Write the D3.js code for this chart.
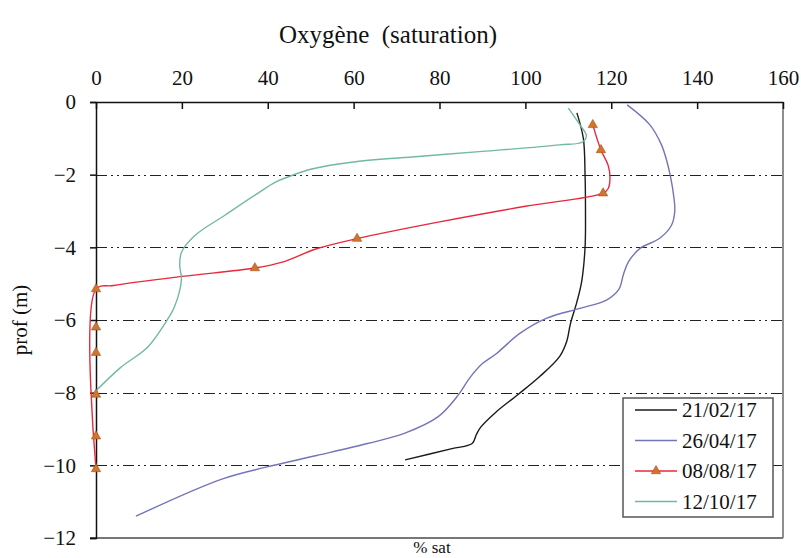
<!DOCTYPE html>
<html>
<head>
<meta charset="utf-8">
<script src="https://cdn.jsdelivr.net/npm/d3@7"></script>
<style>
  body { margin: 0; background: #fff; }
</style>
</head>
<body>
<div id="chart"></div>
<script>
// ticks and series (value %sat, depth m)
const xTicks = [0, 20, 40, 60, 80, 100, 120, 140, 160];
const yTicks = [0, -2, -4, -6, -8, -10, -12];
const gridDepths = [-2, -4, -6, -8, -10];
const dates = ["21/02/17", "26/04/17", "08/08/17", "12/10/17"];
const colors = ["#1b1b1b", "#7474b8", "#e8283c", "#72b8a6"];

const feb = [[112, -0.3], [113.5, -1.0], [113.9, -2], [114, -3], [113.9, -4], [113.1, -4.95],
  [112, -5.5], [110.5, -6.1], [109.6, -6.6], [108, -7.0], [103.4, -7.55], [98.3, -8.05],
  [93, -8.55], [89.6, -8.95], [88.6, -9.15], [87.6, -9.4], [82.9, -9.54], [72, -9.85]];
const apr = [[123.7, -0.08], [129, -0.63], [131.7, -1.18], [133, -1.65], [133.7, -2], [134.5, -2.55],
  [134.8, -3], [134, -3.4], [131.3, -3.75], [126.7, -4.03], [124, -4.4], [122.8, -4.76],
  [121.8, -5.15], [118.9, -5.45], [112.7, -5.68], [105, -5.95], [98.7, -6.37], [93.3, -6.92],
  [90, -7.2], [87, -7.6], [84.4, -8.06], [79.7, -8.66], [71.8, -9.12], [63.2, -9.4],
  [51.4, -9.73], [39.6, -10.05], [29.3, -10.38], [9.3, -11.4]];
const aug = [[115.7, -0.63], [117.6, -1.32], [119.3, -1.75], [119.7, -2.1], [119.3, -2.38],
  [118.1, -2.51], [100, -2.87], [80, -3.3], [60.8, -3.76], [51.4, -4.04], [43.6, -4.4],
  [37, -4.57], [20, -4.8], [4.1, -5.05], [0, -5.15], [0, -10.1]];
const augMarks = [[115.7, -0.63], [117.6, -1.32], [118.1, -2.51], [60.8, -3.76], [37, -4.57],
  [0, -5.15], [0, -6.2], [0, -6.9], [0, -8.05], [0, -9.2], [0, -10.1]];
const oct = [[110, -0.17], [112.7, -0.63], [114.2, -0.92], [113.3, -1.1], [108, -1.18], [90, -1.36],
  [75, -1.5], [60, -1.65], [50, -1.85], [45, -2.05], [41.9, -2.2], [37.2, -2.55], [30.1, -3.11],
  [23.1, -3.67], [19.9, -4.14], [19.5, -4.51], [19.9, -4.88], [18.3, -5.63], [16.3, -6.05],
  [12, -6.75], [5.7, -7.31], [0, -7.95]];
const series = [feb, apr, aug, oct];

const W = 801, H = 558;
const L = 96, R = 783, T = 102, B = 538;
const serif = "'Liberation Serif', 'Times New Roman', Times, serif";

const svg = d3.select("#chart").append("svg")
  .attr("width", W).attr("height", H)
  .style("font-family", serif);

const x = d3.scaleLinear().domain([0, 160]).range([L, R]);
const y = d3.scaleLinear().domain([0, -12]).range([T, B]);

// grid lines dash-dot-dot
svg.selectAll("line.grid").data(gridDepths).enter().append("line")
  .attr("class", "grid")
  .attr("x1", L).attr("x2", R)
  .attr("y1", d => Math.round(y(d)) + 0.5).attr("y2", d => Math.round(y(d)) + 0.5)
  .attr("stroke", "#222").attr("stroke-width", 1.2)
  .attr("stroke-dasharray", "11,4,2,4,2,4");

// frame: right + bottom
svg.append("line").attr("x1", R).attr("x2", R).attr("y1", T).attr("y2", B)
  .attr("stroke", "#444").attr("stroke-width", 1.2);
svg.append("line").attr("x1", L - 6).attr("x2", R).attr("y1", B).attr("y2", B)
  .attr("stroke", "#777").attr("stroke-width", 2);

// top axis, ticks inward
const topAxis = svg.append("g").attr("transform", "translate(0," + T + ")")
  .call(d3.axisTop(x).tickValues(xTicks).tickSizeInner(-7).tickSizeOuter(0).tickPadding(17));
topAxis.attr("font-family", serif);
topAxis.select(".domain").attr("stroke", "#111").attr("stroke-width", 1.5);
topAxis.selectAll(".tick line").attr("stroke", "#111").attr("stroke-width", 1.5);
topAxis.selectAll("text").style("font-size", "21px").attr("fill", "#111");

// left axis
const leftAxis = svg.append("g").attr("transform", "translate(" + L + ",0)")
  .call(d3.axisLeft(y).tickValues(yTicks).tickSize(6).tickPadding(14));
leftAxis.attr("font-family", serif);
leftAxis.select(".domain").attr("stroke", "#111").attr("stroke-width", 1.5);
leftAxis.selectAll(".tick line").attr("stroke", "#111").attr("stroke-width", 1.5);
leftAxis.selectAll("text").style("font-size", "21px").attr("fill", "#111");

// curves
const line = d3.line().x(d => x(d[0])).y(d => y(d[1])).curve(d3.curveCatmullRom.alpha(0.5));
svg.selectAll("path.series").data(series).enter().append("path")
  .attr("class", "series")
  .attr("d", line)
  .attr("fill", "none")
  .attr("stroke", (d, i) => colors[i])
  .attr("stroke-width", 1.4);

const tri = d3.symbol().type(d3.symbolTriangle).size(38);
svg.selectAll("path.mark").data(augMarks).enter().append("path")
  .attr("class", "mark")
  .attr("d", tri)
  .attr("transform", d => "translate(" + x(d[0]) + "," + y(d[1]) + ")")
  .attr("fill", "#d2742a").attr("stroke", "#a8501c").attr("stroke-width", 0.6);

// titles
svg.append("text").attr("x", 388).attr("y", 43).attr("text-anchor", "middle")
  .attr("fill", "#111").style("font-size", "25px").style("white-space", "pre")
  .text("Oxygène  (saturation)");
svg.append("text").attr("x", 432).attr("y", 553).attr("text-anchor", "middle")
  .attr("fill", "#111").style("font-size", "17px").text("% sat");
svg.append("text").attr("transform", "translate(27,320) rotate(-90)")
  .attr("text-anchor", "middle").attr("fill", "#111").style("font-size", "21px").text("prof (m)");

// legend
const lg = svg.append("g");
lg.append("rect").attr("x", 623).attr("y", 398).attr("width", 150).attr("height", 119)
  .attr("fill", "#fff").attr("stroke", "#555").attr("stroke-width", 1.5);
const rows = lg.selectAll("g.row").data(dates).enter().append("g")
  .attr("class", "row")
  .attr("transform", (d, i) => "translate(0," + (410 + i * 30.5) + ")");
rows.append("line").attr("x1", 635).attr("x2", 677)
  .attr("stroke", (d, i) => colors[i]).attr("stroke-width", 1.4);
rows.filter((d, i) => i === 2).append("path").attr("d", tri)
  .attr("transform", "translate(656,0)")
  .attr("fill", "#d2742a").attr("stroke", "#a8501c").attr("stroke-width", 0.6);
rows.append("text").attr("x", 682).attr("dy", "0.35em")
  .attr("fill", "#111").style("font-size", "21px").text(d => d);
</script>
</body>
</html>
